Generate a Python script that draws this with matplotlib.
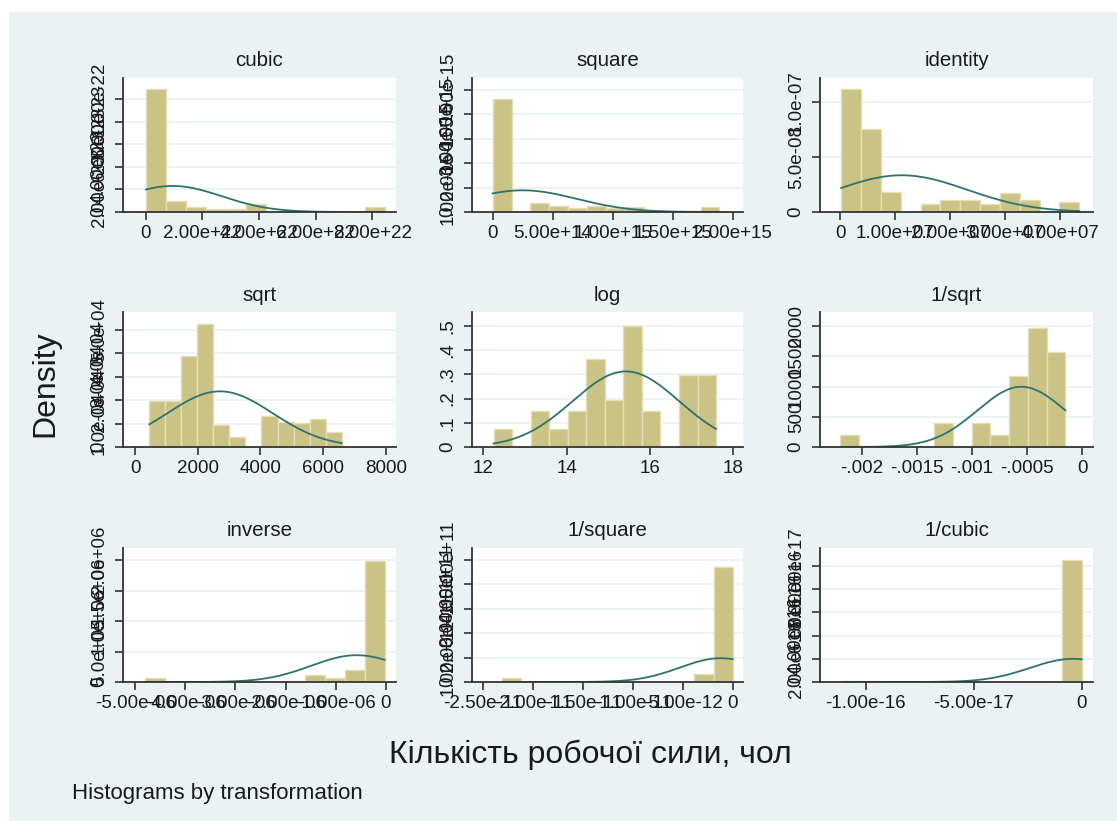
# gladder-style histograms of labour force by ladder of powers
import numpy as np
import matplotlib
matplotlib.use("Agg")
import matplotlib.pyplot as plt
from matplotlib.patches import Rectangle
from matplotlib.transforms import offset_copy

plt.rcParams["font.family"] = ["Liberation Sans", "DejaVu Sans"]

# --------------------------------------------------
# Data
# --------------------------------------------------
titles = ["cubic", "square", "identity",
          "sqrt", "log", "1/sqrt",
          "inverse", "1/square", "1/cubic"]

# histogram bins: first edge and width (12 bins each)
bin_starts = [0.009e22, 4.3e10, 2.08e5,
              456.0, 12.245, -0.002193,
              -4.808e-6, -2.311e-11, -1.111e-16]
bin_widths = [0.703e22, 1.575e14, 3.608e6,
              511.6, 0.445, 0.0001701,
              3.987e-7, 1.926e-12, 9.26e-18]

densities = [
    [1.09e-22, 9.8e-24, 4.4e-24, 3.0e-24, 3.0e-24, 7.4e-24, 0, 0, 0, 0, 0, 4.4e-24],
    [4.62e-15, 0, 3.8e-16, 2.6e-16, 1.6e-16, 2.6e-16, 1.6e-16, 2.1e-16, 0, 0, 0, 2.1e-16],
    [1.125e-7, 7.55e-8, 1.83e-8, 0, 7.6e-9, 1.13e-8, 1.13e-8, 7.6e-9, 1.74e-8, 1.13e-8, 0, 8.9e-9],
    [1.95e-4, 1.95e-4, 3.88e-4, 5.23e-4, 0.92e-4, 0.41e-4, 0, 1.31e-4, 1.05e-4, 1.04e-4, 1.18e-4, 0.65e-4],
    [0.0757, 0, 0.150, 0.0757, 0.150, 0.362, 0.195, 0.50, 0.150, 0, 0.297, 0.297],
    [204, 0, 0, 0, 0, 403, 0, 403, 204, 1175, 1976, 1578],
    [7.1e4, 0, 0, 0, 0, 0, 0, 2.2e4, 1.21e5, 7.1e4, 1.92e5, 1.99e6],
    [1.78e10, 0, 0, 0, 0, 0, 0, 0, 0, 0, 3.15e10, 4.70e11],
    [1.1e15, 1.1e15, 0, 0, 0, 0, 0, 0, 0, 0, 0, 1.052e17],
]

# fitted normal density overlay
norm_means = [0.95e22, 2.5e14, 1.12e7, 2713, 15.42, -0.00055, -0.58e-6, -1.2e-12, -0.4e-17]
norm_sds = [1.73e22, 4.5e14, 1.19e7, 1683, 1.279, 0.0004, 0.907e-6, 4.1e-12, 2.0e-17]

xtick_vals = [
    [0, 2e22, 4e22, 6e22, 8e22],
    [0, 5e14, 1e15, 1.5e15, 2e15],
    [0, 1e7, 2e7, 3e7, 4e7],
    [0, 2000, 4000, 6000, 8000],
    [12, 14, 16, 18],
    [-0.002, -0.0015, -0.001, -0.0005, 0],
    [-5e-6, -4e-6, -3e-6, -2e-6, -1e-6, 0],
    [-2.5e-11, -2e-11, -1.5e-11, -1e-11, -5e-12, 0],
    [-1e-16, -5e-17, 0],
]
xtick_labels = [
    ["0", "2.00e+22", "4.00e+22", "6.00e+22", "8.00e+22"],
    ["0", "5.00e+14", "1.00e+15", "1.50e+15", "2.00e+15"],
    ["0", "1.00e+07", "2.00e+07", "3.00e+07", "4.00e+07"],
    ["0", "2000", "4000", "6000", "8000"],
    ["12", "14", "16", "18"],
    ["-.002", "-.0015", "-.001", "-.0005", "0"],
    ["-5.00e-06", "-4.00e-06", "-3.00e-06", "-2.00e-06", "-1.00e-06", "0"],
    ["-2.50e-11", "-2.00e-11", "-1.50e-11", "-1.00e-11", "-5.00e-12", "0"],
    ["-1.00e-16", "-5.00e-17", "0"],
]

ytick_vals = [
    [0, 2e-23, 4e-23, 6e-23, 8e-23, 1e-22],
    [0, 1e-15, 2e-15, 3e-15, 4e-15, 5e-15],
    [0, 5e-8, 1e-7],
    [0, 1e-4, 2e-4, 3e-4, 4e-4, 5e-4],
    [0, 0.1, 0.2, 0.3, 0.4, 0.5],
    [0, 500, 1000, 1500, 2000],
    [0, 5e5, 1e6, 1.5e6, 2e6],
    [0, 1e11, 2e11, 3e11, 4e11, 5e11],
    [0, 2e16, 4e16, 6e16, 8e16, 1e17],
]
ytick_labels = [
    ["0", "2.00e-23", "4.00e-23", "6.00e-23", "8.00e-23", "1.00e-22"],
    ["0", "1.00e-15", "2.00e-15", "3.00e-15", "4.00e-15", "5.00e-15"],
    ["0", "5.0e-08", "1.0e-07"],
    ["0", "1.0e-04", "2.0e-04", "3.0e-04", "4.0e-04", "5.0e-04"],
    ["0", ".1", ".2", ".3", ".4", ".5"],
    ["0", "500", "1000", "1500", "2000"],
    ["0", "5.0e+05", "1.0e+06", "1.5e+06", "2.0e+06"],
    ["0", "1.00e+11", "2.00e+11", "3.00e+11", "4.00e+11", "5.00e+11"],
    ["0", "2.00e+16", "4.00e+16", "6.00e+16", "8.00e+16", "1.00e+17"],
]

x_limits = [(-0.80e22, 8.83e22), (-1.72e14, 2.086e15), (-0.364e7, 4.6e7),
            (-383, 8330), (11.728, 18.23), (-0.002377, 0.0000994),
            (-5.243e-6, 0.205e-6), (-2.612e-11, 1.03e-12), (-1.211e-16, 0.52e-17)]
y_tops = [1.186e-22, 5.48e-15, 1.223e-7, 5.75e-4, 0.557, 2235, 2.2e6, 5.48e11, 1.153e17]

# --------------------------------------------------
# Layout (pixels)
# --------------------------------------------------
W, H = 1117, 821
col_left = [123, 472, 820]
col_right = [396, 743, 1093]
row_top = [78, 312, 548]
row_bottom = [212, 447, 682]

bg = "#eaf2f3"
bar_color = "#cbc385"
bar_edge = "#e2deb6"
curve_color = "#2c736f"
axis_color = "#333333"
text_color = "#1a1a1a"

fig = plt.figure(figsize=(W / 100, H / 100), dpi=100)
fig.patch.set_facecolor("white")
fig.add_artist(Rectangle((9 / W, 0), 1 - 9 / W, 1 - 12 / H,
                         transform=fig.transFigure, color=bg, zorder=0))

for i, title in enumerate(titles):
    r, c = divmod(i, 3)
    l, rr = col_left[c], col_right[c]
    t, b = row_top[r], row_bottom[r]
    ax = fig.add_axes([l / W, 1 - b / H, (rr - l) / W, (b - t) / H])
    ax.set_facecolor("white")

    dens = np.array(densities[i])
    w = bin_widths[i]
    edges = bin_starts[i] + w * np.arange(len(dens) + 1)
    ax.bar(edges[:-1], dens, width=w, align="edge", color=bar_color,
           edgecolor=bar_edge, linewidth=1.0, zorder=2)

    xs = np.linspace(edges[0], edges[-1], 300)
    mu, sd = norm_means[i], norm_sds[i]
    pdf = np.exp(-0.5 * ((xs - mu) / sd) ** 2) / (sd * np.sqrt(2 * np.pi))
    ax.plot(xs, pdf, color=curve_color, lw=1.3, zorder=2.2)

    ax.set_xlim(*x_limits[i])
    ax.set_ylim(0, y_tops[i])

    for yv in ytick_vals[i][1:]:
        ax.axhline(yv, color=bg, lw=1.3, zorder=1)

    ax.set_xticks(xtick_vals[i], xtick_labels[i])
    ax.set_yticks(ytick_vals[i], ytick_labels[i])
    ax.tick_params(axis="both", direction="out", length=6, width=1.2,
                   colors=axis_color, labelcolor=text_color, labelsize=13.5)
    ax.tick_params(axis="x", pad=3)
    ax.tick_params(axis="y", pad=5)
    for lab in ax.get_yticklabels():
        lab.set_rotation(90)
        lab.set_va("center")
        lab.set_ha("right")

    for s in ["top", "right"]:
        ax.spines[s].set_visible(False)
    for s in ["left", "bottom"]:
        ax.spines[s].set_color(axis_color)
        ax.spines[s].set_linewidth(1.3)
        ax.spines[s].set_zorder(3)

    tr = offset_copy(ax.transAxes, fig=fig, y=17, units="dots")
    ax.text(0.5, 1.0, title, transform=tr, ha="center", va="center",
            fontsize=14.8, color=text_color)

fig.text(45 / W, 1 - 384 / H, "Density", rotation=90, ha="center", va="center",
         fontsize=23, color=text_color)
fig.text(590 / W, 1 - 755 / H, "Кількість робочої сили, чол", ha="center",
         va="center", fontsize=23, color=text_color)
fig.text(72 / W, 1 - 793 / H, "Histograms by transformation", ha="left",
         va="center", fontsize=16, color=text_color)

fig.savefig("out.png", dpi=100)
